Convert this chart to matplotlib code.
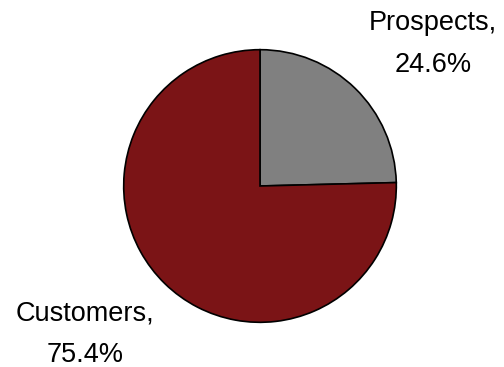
import matplotlib
matplotlib.use("Agg")
import matplotlib.pyplot as plt

plt.rcParams['font.family'] = ['Liberation Sans', 'DejaVu Sans']

# Share of contacts
labels = ["Prospects", "Customers"]
shares = [24.6, 75.4]
colors = ["#808080", "#7b1416"]

W, H = 504, 367
fig = plt.figure(figsize=(W / 100, H / 100), dpi=100)

# pie centred at (260, 186) px with a 137 px radius
cx, cy, r = 260, 186, 137
ax = fig.add_axes([(cx - r) / W, 1 - (cy + r) / H, 2 * r / W, 2 * r / H])
ax.pie(shares, colors=colors, startangle=90, counterclock=False, radius=1,
       wedgeprops=dict(edgecolor="black", linewidth=1.2))
ax.set_xlim(-1.005, 1.005)
ax.set_ylim(-1.005, 1.005)
ax.set_aspect("equal")
ax.axis("off")

# labels sit outside the pie, in figure pixels
label_pos = {"Prospects": (433, 44), "Customers": (85, 334)}
for name, val in zip(labels, shares):
    x, y = label_pos[name]
    fig.text(x / W, 1 - y / H, f"{name},\n{val}%", ha="center", va="center",
             fontsize=19.5, linespacing=1.75, color="black")

fig.savefig("out.png", dpi=100)
